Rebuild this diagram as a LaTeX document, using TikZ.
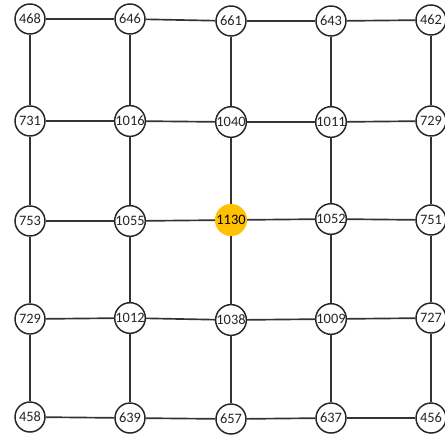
\documentclass[tikz,border=0pt]{standalone}
\usepackage{fontspec}
\setmainfont{Carlito}
\usepackage{tikz}
\tikzset{every picture/.style={line width=0.75pt}}
\definecolor{gold}{RGB}{255,192,0}
\tikzset{
  cell/.style={draw=black!85, circle, fill=white, minimum size=22.5pt, inner sep=0pt, line width=1.1pt, font=\fontsize{10.8}{12}\selectfont, text=black!85},
  peak/.style={cell, draw=gold, fill=gold, text=black},
  link/.style={draw=black!80, line width=1.25pt}
}
\begin{document}
\begin{tikzpicture}[x=0.75pt,y=0.75pt,yscale=-1,xscale=1]
\useasboundingbox (0,0) rectangle (445,437);

% Row 1
\node [cell] (a1) at (30,19) {468};
\node [cell] (a2) at (130,19) {646};
\node [cell] (a3) at (231,21) {661};
\node [cell] (a4) at (331,21) {643};
\node [cell] (a5) at (431,20) {462};
% Row 2
\node [cell] (b1) at (30,121) {731};
\node [cell] (b2) at (130,121) {1016};
\node [cell] (b3) at (231,122) {1040};
\node [cell] (b4) at (331,122) {1011};
\node [cell] (b5) at (431,121) {729};
% Row 3
\node [cell] (c1) at (30,221) {753};
\node [cell] (c2) at (130,221) {1055};
\node [peak] (c3) at (231,220) {1130};
\node [cell] (c4) at (331,219) {1052};
\node [cell] (c5) at (431,220) {751};
% Row 4
\node [cell] (d1) at (30,319) {729};
\node [cell] (d2) at (130,318) {1012};
\node [cell] (d3) at (231,320) {1038};
\node [cell] (d4) at (331,319) {1009};
\node [cell] (d5) at (431,318) {727};
% Row 5
\node [cell] (e1) at (30,417) {458};
\node [cell] (e2) at (130,418) {639};
\node [cell] (e3) at (231,419) {657};
\node [cell] (e4) at (331,418) {637};
\node [cell] (e5) at (431,418) {456};

% Horizontal links
\foreach \r in {a,b,c,d,e}{
  \draw [link] (\r1) -- (\r2);
  \draw [link] (\r2) -- (\r3);
  \draw [link] (\r3) -- (\r4);
  \draw [link] (\r4) -- (\r5);
}
% Vertical links
\foreach \c in {1,...,5}{
  \draw [link] (a\c) -- (b\c);
  \draw [link] (b\c) -- (c\c);
  \draw [link] (c\c) -- (d\c);
  \draw [link] (d\c) -- (e\c);
}

\end{tikzpicture}
\end{document}
